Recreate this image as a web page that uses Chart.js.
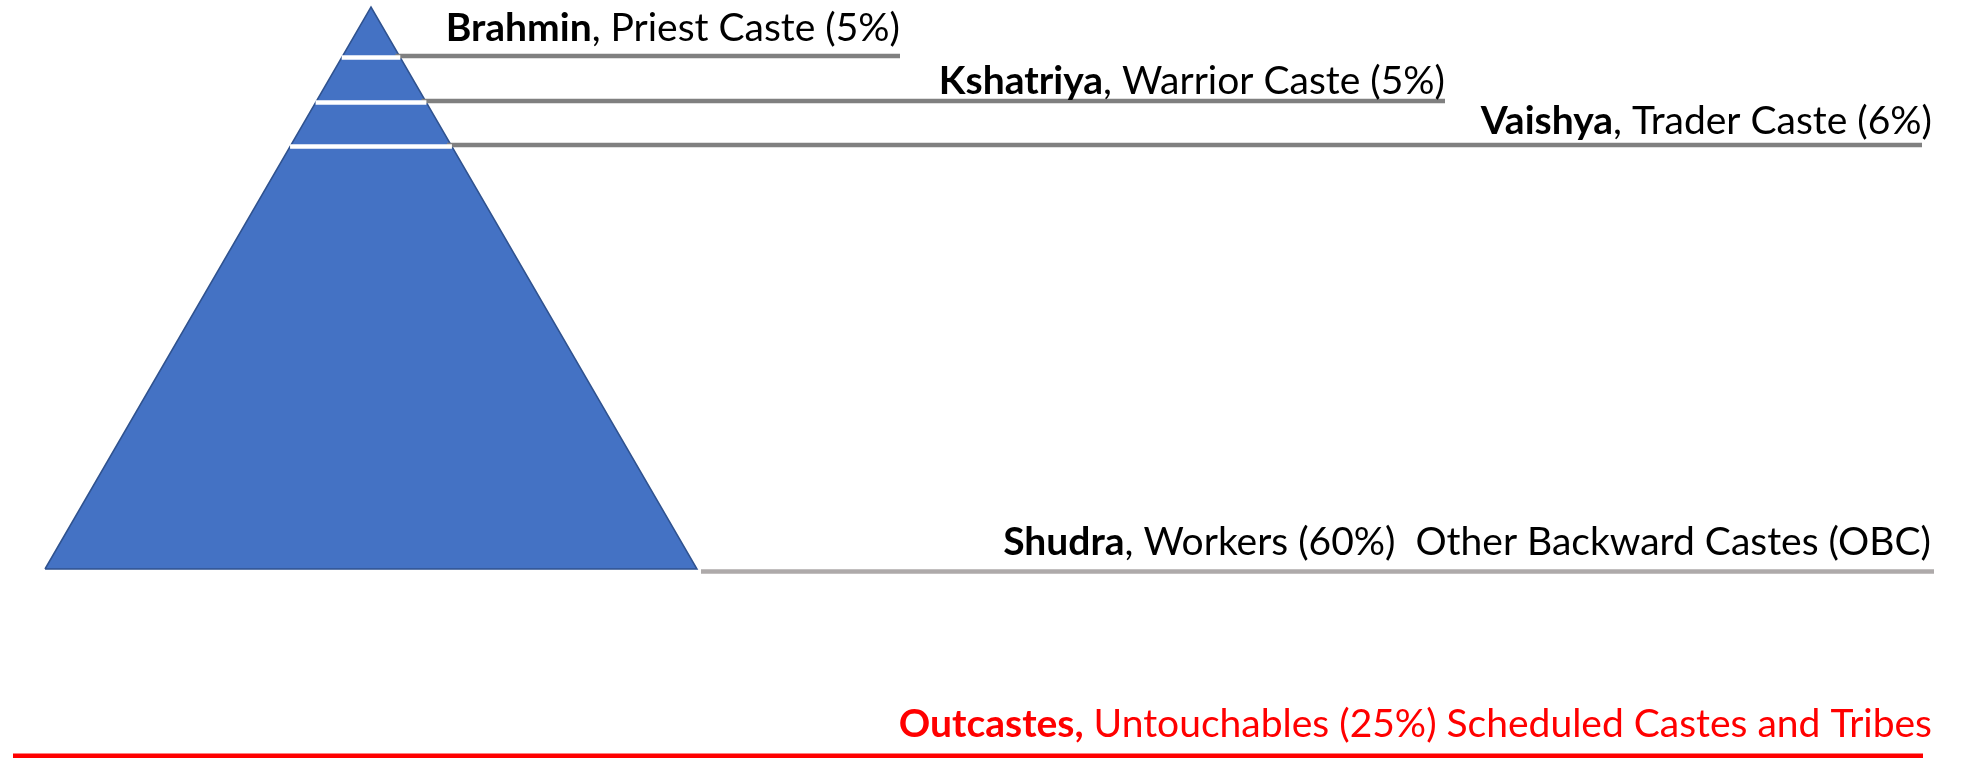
<!DOCTYPE html>
<html>
<head>
<meta charset="utf-8">
<script src="https://cdn.jsdelivr.net/npm/chart.js@4.4.0/dist/chart.umd.min.js"></script>
<style>
  html, body { margin: 0; padding: 0; background: #fff; overflow: hidden; }
  canvas { display: block; }
</style>
</head>
<body>
<canvas id="caste" width="1965" height="758"></canvas>
<script>
// tiers, top of the pyramid first
const tierNames = ['Brahmin', 'Kshatriya', 'Vaishya', 'Shudra', 'Outcastes'];
const tierRoles = ['Priest Caste', 'Warrior Caste', 'Trader Caste', 'Workers', 'Untouchables'];
const tierShares = [5, 5, 6, 60, 25];
const tierExtra = ['', '', '', '  Other Backward Castes (OBC)', ' Scheduled Castes and Tribes'];

// values, in the chart's own units (depth counted from the top)
const leaderDepth = [56, 101, 145, 571.5, 756];
const leaderStart = [null, null, null, 701, 13];   // null = starts on the pyramid edge
const leaderEnd = [900, 1445, 1922, 1934, 1923];
const labelDepth = [41, 94, 134, 555, 737];
const labelRight = [900, 1445, 1932, 1931, 1932];

const apex = {x: 371, y: 7};
const base = {left: 45, right: 697, y: 569};

const BLUE = '#4472C4';
const BLUE_EDGE = '#2F528F';
const leaderColors = ['#808080', '#808080', '#808080', '#AEAAAA', '#FF0000'];
const textColors = ['#000', '#000', '#000', '#000', '#FF0000'];
const FONT = 'Lato, "Open Sans", sans-serif';
const FONT_SIZE = 39;

function edgeX(depth, side){
  const far = side < 0 ? base.left : base.right;
  return apex.x + (depth - apex.y) * (far - apex.x) / (base.y - apex.y);
}

const datasets = [];

// white bands across the pyramid (drawn on top)
for(let i=0;i<3;i++){
  const d = leaderDepth[i] + 1.5;
  datasets.push({
    data: [{x: edgeX(d, -1), y: d}, {x: edgeX(d, 1), y: d}],
    borderColor: '#fff', borderWidth: 4.5
  });
}

// leader lines out to the labels
for(let i=0;i<tierNames.length;i++){
  const start = leaderStart[i] === null ? edgeX(leaderDepth[i], 1) - 4 : leaderStart[i];
  datasets.push({
    data: [{x: start, y: leaderDepth[i]}, {x: leaderEnd[i], y: leaderDepth[i]}],
    borderColor: leaderColors[i], borderWidth: i === 4 ? 5 : 4.5
  });
}

// the pyramid itself
datasets.push({
  data: [
    {x: base.left, y: base.y}, {x: apex.x, y: apex.y},
    {x: base.right, y: base.y}, {x: base.left, y: base.y}
  ],
  borderColor: BLUE_EDGE, borderWidth: 1.5,
  backgroundColor: BLUE, fill: 'shape'
});

datasets.forEach(ds => {
  ds.pointRadius = 0;
  ds.tension = 0;
  ds.borderCapStyle = 'butt';
  ds.clip = false;
  if(ds.fill === undefined) ds.fill = false;
});

// labels: bold caste name, then the description, right aligned on the leader
const labelPlugin = {
  id: 'tierLabels',
  afterDatasetsDraw(chart){
    const {ctx, scales: {x, y}} = chart;
    ctx.save();
    ctx.textBaseline = 'alphabetic';
    ctx.textAlign = 'left';
    for(let i=0;i<tierNames.length;i++){
      const boldComma = i === 4;
      const bold = tierNames[i] + (boldComma ? ',' : '');
      const rest = (boldComma ? ' ' : ', ') + tierRoles[i] + ' (' + tierShares[i] + '%)' + tierExtra[i];
      const right = x.getPixelForValue(labelRight[i]);
      const yy = y.getPixelForValue(labelDepth[i]);
      ctx.fillStyle = textColors[i];
      ctx.font = FONT_SIZE + 'px ' + FONT;
      const restW = ctx.measureText(rest).width;
      ctx.font = 'bold ' + FONT_SIZE + 'px ' + FONT;
      const boldW = ctx.measureText(bold).width;
      ctx.fillText(bold, right - restW - boldW, yy);
      ctx.font = FONT_SIZE + 'px ' + FONT;
      ctx.fillText(rest, right - restW, yy);
    }
    ctx.restore();
  }
};

new Chart(document.getElementById('caste'), {
  type: 'line',
  data: {datasets},
  options: {
    responsive: false,
    animation: false,
    events: [],
    layout: {padding: 0},
    plugins: {legend: {display: false}, tooltip: {enabled: false}},
    scales: {
      x: {type: 'linear', min: 0, max: 1965, display: false},
      y: {type: 'linear', min: 0, max: 758, reverse: true, display: false}
    }
  },
  plugins: [labelPlugin]
});
</script>
</body>
</html>
